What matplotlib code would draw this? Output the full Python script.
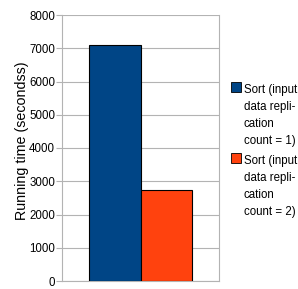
import matplotlib
matplotlib.use("Agg")
import matplotlib.pyplot as plt
from matplotlib.patches import Rectangle

plt.rcParams['font.family'] = ['Liberation Sans', 'DejaVu Sans']

series = ["Sort (input\ndata repli-\ncation\ncount = 1)", "Sort (input\ndata repli-\ncation\ncount = 2)"]
values = [7100, 2750]
colors = ["#004586", "#ff420e"]
yticks = [0, 1000, 2000, 3000, 4000, 5000, 6000, 7000, 8000]

W, H = 298, 289
fig = plt.figure(figsize=(W/100, H/100), dpi=100)
ax = fig.add_axes([62/W, 1-281/H, 157/W, 266/H])

for i, (v, c) in enumerate(zip(values, colors)):
    ax.bar(i, v, width=1.0, color=c, edgecolor="black", linewidth=0.8, zorder=3)

ax.set_xlim(-1.01, 2.01)
ax.set_ylim(0, 8000)
ax.set_yticks(yticks)
ax.set_yticklabels([str(t) for t in yticks], fontsize=8.3)
ax.set_xticks([])
ax.yaxis.grid(True, color="#b3b3b3", linewidth=0.8, zorder=0)
for s in ["left", "right", "bottom", "top"]:
    ax.spines[s].set_color("#b3b3b3")
    ax.spines[s].set_linewidth(0.8)
ax.spines["top"].set_visible(False)
ax.tick_params(axis="y", length=4, color="#b3b3b3", width=0.8, pad=1)
ax.set_ylabel("Running time (secondss)", fontsize=10.3)
ax.yaxis.set_label_coords((29-62)/157, (281-141)/266)

# legend drawn manually: square + wrapped label lines at fixed baselines
item_top = [82, 153]
line_step = 17
for lab, c, top in zip(series, colors, item_top):
    fig.patches.append(Rectangle((231/W, 1-(top+10)/H), 9.5/W, 10/H, transform=fig.transFigure,
                                 facecolor=c, edgecolor="black", linewidth=0.6))
    for k, line in enumerate(lab.split("\n")):
        base = top + 11 + k*line_step
        fig.text(243.5/W, 1-base/H, line, fontsize=8.3, va="baseline", ha="left")

fig.savefig("out.png", dpi=100)
